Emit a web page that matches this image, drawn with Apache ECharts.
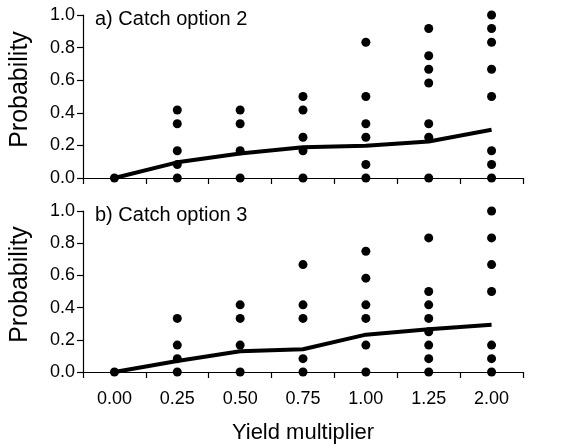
<!DOCTYPE html>
<html>
<head>
<meta charset="utf-8">
<script src="https://cdn.jsdelivr.net/npm/echarts@6/dist/echarts.min.js"></script>
<style>html,body{margin:0;padding:0;background:#fff;}#c{width:567px;height:447px;}</style>
</head>
<body>
<div id="c"></div>
<script>
const categories = ['0.00','0.25','0.50','0.75','1.00','1.25','2.00'];
const yTicks = [0, 0.2, 0.4, 0.6, 0.8, 1.0];
const pointsA = [
  [0],
  [0, 0.083, 0.167, 0.333, 0.417],
  [0, 0.167, 0.333, 0.417],
  [0, 0.167, 0.25, 0.417, 0.5],
  [0, 0.083, 0.25, 0.333, 0.5, 0.833],
  [0, 0.25, 0.333, 0.583, 0.667, 0.75, 0.917],
  [0, 0.083, 0.167, 0.5, 0.667, 0.833, 0.917, 1.0]
];
const pointsB = [
  [0],
  [0, 0.083, 0.167, 0.333],
  [0, 0.167, 0.333, 0.417],
  [0, 0.083, 0.333, 0.417, 0.667],
  [0, 0.167, 0.333, 0.417, 0.583, 0.75],
  [0, 0.083, 0.167, 0.25, 0.333, 0.417, 0.5, 0.833],
  [0, 0.083, 0.167, 0.5, 0.667, 0.833, 1.0]
];
const lineA = [0, 0.096, 0.15, 0.188, 0.198, 0.224, 0.296];
const lineB = [0, 0.068, 0.129, 0.141, 0.232, 0.266, 0.293];
const titleA = 'a) Catch option 2';
const titleB = 'b) Catch option 3';
const yName = 'Probability';
const xName = 'Yield multiplier';

const FONT = 'Liberation Sans';
function flat(points) {
  const out = [];
  points.forEach((vals, i) => vals.forEach(v => out.push([categories[i], v])));
  return out;
}
function xAxis(idx, showLabels) {
  return {
    type: 'category', gridIndex: idx, data: categories, boundaryGap: true,
    axisLine: { lineStyle: { color: '#000', width: 1.2 } },
    axisTick: { show: true, inside: false, length: 6, lineStyle: { color: '#000', width: 1.2 }, alignWithLabel: false },
    axisLabel: { show: showLabels, color: '#000', fontSize: 18, fontFamily: FONT, margin: 18 },
    name: showLabels ? xName : '', nameLocation: 'middle', nameGap: 50,
    nameTextStyle: { color: '#000', fontSize: 22, fontFamily: FONT },
    splitLine: { show: false }
  };
}
function yAxis(idx) {
  return {
    type: 'value', gridIndex: idx, min: 0, max: 1, interval: 0.2,
    axisLine: { show: true, lineStyle: { color: '#000', width: 1.2 } },
    axisTick: { show: true, length: 6, lineStyle: { color: '#000', width: 1.2 } },
    axisLabel: { color: '#000', fontSize: 18, fontFamily: FONT, margin: 8, formatter: v => v.toFixed(1) },
    splitLine: { show: false },
    name: yName, nameLocation: 'middle', nameGap: 50,
    nameTextStyle: { color: '#000', fontSize: 25, fontFamily: FONT, padding: [0, 0, 0, 14] }
  };
}
const chart = echarts.init(document.getElementById('c'), null, { renderer: 'canvas' });
chart.setOption({
  animation: false,
  backgroundColor: '#fff',
  title: [
    { text: titleA, left: 90, top: 4, textStyle: { color: '#000', fontSize: 20, fontWeight: 'normal', fontFamily: FONT } },
    { text: titleB, left: 90, top: 200, textStyle: { color: '#000', fontSize: 20, fontWeight: 'normal', fontFamily: FONT } }
  ],
  grid: [
    { left: 80, right: 44, top: 15, height: 163 },
    { left: 80, right: 44, top: 211, height: 161 }
  ],
  xAxis: [xAxis(0, false), xAxis(1, true)],
  yAxis: [yAxis(0), yAxis(1)],
  series: [
    { type: 'line', xAxisIndex: 0, yAxisIndex: 0, data: lineA, symbol: 'none', lineStyle: { color: '#000', width: 4 }, z: 2 },
    { type: 'scatter', xAxisIndex: 0, yAxisIndex: 0, data: flat(pointsA), symbolSize: 9, itemStyle: { color: '#000', opacity: 1 }, z: 3 },
    { type: 'line', xAxisIndex: 1, yAxisIndex: 1, data: lineB, symbol: 'none', lineStyle: { color: '#000', width: 4 }, z: 2 },
    { type: 'scatter', xAxisIndex: 1, yAxisIndex: 1, data: flat(pointsB), symbolSize: 9, itemStyle: { color: '#000', opacity: 1 }, z: 3 }
  ]
});
</script>
</body>
</html>
